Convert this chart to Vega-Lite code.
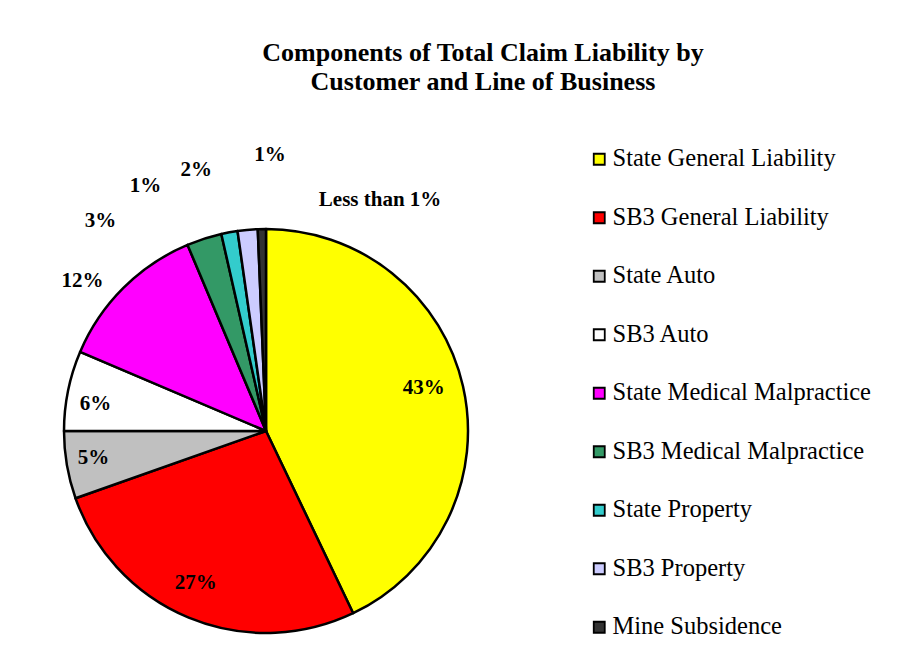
{
  "$schema": "https://vega.github.io/schema/vega-lite/v6.json",
  "autosize": {"type": "none"},
  "width": 404,
  "height": 404,
  "padding": {"left": 64, "top": 229, "right": 454, "bottom": 36},
  "background": "white",
  "title": {
    "text": ["Components of Total Claim Liability by", "Customer and Line of Business"],
    "font": "Liberation Serif",
    "fontSize": 26,
    "fontWeight": "bold",
    "color": "black",
    "anchor": "middle",
    "dx": 217,
    "offset": 49,
    "lineHeight": 29
  },
  "data": {
    "values": [
      {"category": "State General Liability", "value": 42.9, "order": 1, "label": "43%"},
      {"category": "SB3 General Liability", "value": 26.7, "order": 2, "label": "27%"},
      {"category": "State Auto", "value": 5.4, "order": 3, "label": "5%"},
      {"category": "SB3 Auto", "value": 6.4, "order": 4, "label": "6%"},
      {"category": "State Medical Malpractice", "value": 12.25, "order": 5, "label": "12%"},
      {"category": "SB3 Medical Malpractice", "value": 2.8, "order": 6, "label": "3%"},
      {"category": "State Property", "value": 1.3, "order": 7, "label": "1%"},
      {"category": "SB3 Property", "value": 1.6, "order": 8, "label": "2%"},
      {"category": "Mine Subsidence", "value": 0.65, "order": 9, "label": "1%"}
    ]
  },
  "encoding": {
    "theta": {"field": "value", "type": "quantitative", "stack": true},
    "order": {"field": "order", "type": "quantitative"}
  },
  "layer": [
    {
      "mark": {"type": "arc", "stroke": "black", "strokeWidth": 2.5, "strokeJoin": "round"},
      "encoding": {
        "color": {
          "field": "category",
          "type": "nominal",
          "sort": ["State General Liability", "SB3 General Liability", "State Auto", "SB3 Auto", "State Medical Malpractice", "SB3 Medical Malpractice", "State Property", "SB3 Property", "Mine Subsidence"],
          "scale": {
            "domain": ["State General Liability", "SB3 General Liability", "State Auto", "SB3 Auto", "State Medical Malpractice", "SB3 Medical Malpractice", "State Property", "SB3 Property", "Mine Subsidence"],
            "range": ["#FFFF00", "#FF0000", "#C0C0C0", "#FFFFFF", "#FF00FF", "#339966", "#33CCCC", "#CCCCFF", "#333333"]
          },
          "legend": {
            "title": null,
            "orient": "none",
            "legendX": 523,
            "legendY": -82,
            "padding": 0,
            "symbolType": "square",
            "symbolSize": 121,
            "symbolStrokeColor": "black",
            "symbolStrokeWidth": 1.8,
            "symbolOpacity": 1,
            "labelFont": "Liberation Serif",
            "labelFontSize": 24.5,
            "labelColor": "black",
            "labelOffset": 1,
            "labelLimit": 400,
            "rowPadding": 33.5
          }
        }
      }
    },
    {
      "mark": {"type": "text", "radius": 168, "dx": -6, "dy": -6, "font": "Liberation Serif", "fontSize": 21, "fontWeight": "bold", "color": "black"},
      "encoding": {"text": {"condition": {"test": "datum.order === 1", "field": "label"}, "value": ""}}
    },
    {
      "mark": {"type": "text", "radius": 168, "dx": -6, "dy": -3, "font": "Liberation Serif", "fontSize": 21, "fontWeight": "bold", "color": "black"},
      "encoding": {"text": {"condition": {"test": "datum.order === 2", "field": "label"}, "value": ""}}
    },
    {
      "mark": {"type": "text", "radius": 168, "dx": -7, "dy": -1, "font": "Liberation Serif", "fontSize": 21, "fontWeight": "bold", "color": "black"},
      "encoding": {"text": {"condition": {"test": "datum.order === 3", "field": "label"}, "value": ""}}
    },
    {
      "mark": {"type": "text", "radius": 168, "dx": -6, "dy": 7, "font": "Liberation Serif", "fontSize": 21, "fontWeight": "bold", "color": "black"},
      "encoding": {"text": {"condition": {"test": "datum.order === 4", "field": "label"}, "value": ""}}
    },
    {
      "mark": {"type": "text", "radius": 240, "dx": -14, "dy": 20, "font": "Liberation Serif", "fontSize": 21, "fontWeight": "bold", "color": "black"},
      "encoding": {"text": {"condition": {"test": "datum.order === 5", "field": "label"}, "value": ""}}
    },
    {
      "mark": {"type": "text", "radius": 240, "dx": -92, "dy": 18, "font": "Liberation Serif", "fontSize": 21, "fontWeight": "bold", "color": "black"},
      "encoding": {"text": {"condition": {"test": "datum.order === 6", "field": "label"}, "value": ""}}
    },
    {
      "mark": {"type": "text", "radius": 240, "dx": -77, "dy": -9, "font": "Liberation Serif", "fontSize": 21, "fontWeight": "bold", "color": "black"},
      "encoding": {"text": {"condition": {"test": "datum.order === 7", "field": "label"}, "value": ""}}
    },
    {
      "mark": {"type": "text", "radius": 240, "dx": -48, "dy": -22, "font": "Liberation Serif", "fontSize": 21, "fontWeight": "bold", "color": "black"},
      "encoding": {"text": {"condition": {"test": "datum.order === 8", "field": "label"}, "value": ""}}
    },
    {
      "mark": {"type": "text", "radius": 240, "dx": 9, "dy": -36, "font": "Liberation Serif", "fontSize": 21, "fontWeight": "bold", "color": "black"},
      "encoding": {"text": {"condition": {"test": "datum.order === 9", "field": "label"}, "value": ""}}
    },
    {
      "mark": {"type": "text", "radius": 240, "dx": 119, "dy": 9, "font": "Liberation Serif", "fontSize": 21, "fontWeight": "bold", "color": "black"},
      "encoding": {"text": {"condition": {"test": "datum.order === 9", "value": "Less than 1%"}, "value": ""}}
    }
  ],
  "config": {"view": {"stroke": null}}
}
